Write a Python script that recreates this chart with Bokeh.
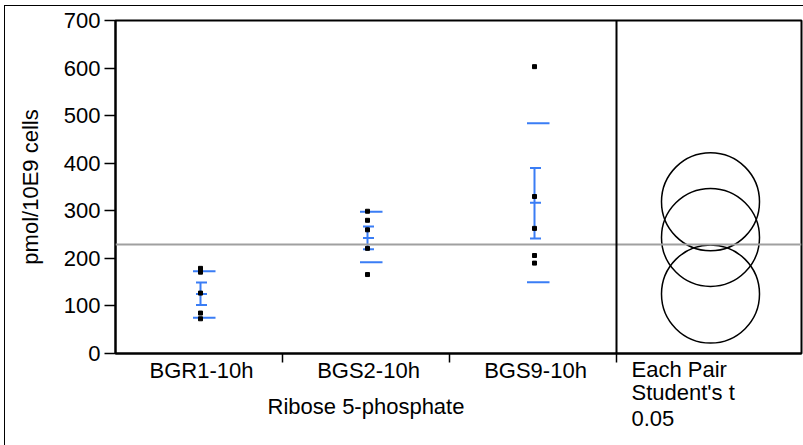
from bokeh.plotting import figure
from bokeh.layouts import column
from bokeh.models import Range1d, FixedTicker, Span
from bokeh.core.properties import value
from bokeh.embed import file_html
from bokeh.resources import INLINE

# ---- data ----
groups = ["BGR1-10h", "BGS2-10h", "BGS9-10h"]
pts_bgr1 = [179, 171, 127, 85, 73]
pts_bgs2 = [299, 280, 260, 221, 166]
pts_bgs9 = [603, 330, 263, 206, 190]
means = [125, 243, 317]
err_lower = [102, 219, 242]
err_upper = [149, 267, 390]
sd_lower = [75, 192, 150]
sd_upper = [173, 298, 484]
grand_mean = 229
circle_centers = [125, 244, 319]
circle_radius = [103, 103, 103]
y_ticks = [0, 100, 200, 300, 400, 500, 600, 700]
x_title = "Ribose 5-phosphate"
y_title = "pmol/10E9 cells"
test_lines = ["Each Pair", "Student's t", "0.05"]

FONT = "Liberation Sans"
FS = "22px"
BLUE = "#3a7df5"
PX = 1.0 / 167.0  # one pixel in x data units (category width 167 px)

xr = Range1d(0, 3 + 185 * PX)

p = figure(width=798, height=369, output_backend="svg", toolbar_location=None,
           x_range=xr, y_range=Range1d(0, 700),
           min_border_left=110, min_border_right=2, min_border_top=14, min_border_bottom=22)
p.xgrid.visible = False
p.ygrid.visible = False
p.outline_line_color = "black"
p.outline_line_width = 2
p.outline_line_alpha = 1.0

# y axis
yax = p.yaxis[0]
yax.ticker = FixedTicker(ticks=y_ticks, minor_ticks=[])
yax.axis_line_color = "black"
yax.axis_line_width = 2
yax.major_tick_in = 0
yax.major_tick_out = 11
yax.major_tick_line_width = 1.5
yax.major_tick_line_color = "black"
yax.minor_tick_line_color = None
yax.major_label_standoff = 4
yax.major_label_text_font = FONT
yax.major_label_text_font_size = FS
yax.major_label_text_color = "black"
yax.axis_label = y_title
yax.axis_label_text_font = FONT
yax.axis_label_text_font_size = FS
yax.axis_label_text_font_style = "normal"
yax.axis_label_text_color = "black"
yax.axis_label_standoff = 18

# x axis: only boundary ticks
xax = p.xaxis[0]
xax.ticker = FixedTicker(ticks=[1, 2, 3], minor_ticks=[])
xax.major_label_overrides = {1: "", 2: "", 3: ""}
xax.major_label_text_font_size = "1px"
xax.major_label_standoff = 0
xax.axis_line_color = "black"
xax.axis_line_width = 2
xax.major_tick_in = 0
xax.major_tick_out = 9
xax.major_tick_line_width = 1.5
xax.major_tick_line_color = "black"
xax.minor_tick_line_color = None

# grand mean line and panel divider
p.add_layout(Span(location=grand_mean, dimension="width", line_color="#a0a0a0", line_width=2))
p.add_layout(Span(location=3, dimension="height", line_color="black", line_width=2))

# transparent lower strip for the texts under the axis (y in pixels, downward)
q = figure(width=798, height=92, output_backend="svg", toolbar_location=None,
           x_range=xr, y_range=Range1d(92, 0), x_axis_type=None, y_axis_type=None,
           min_border_left=110, min_border_right=2, min_border_top=0, min_border_bottom=0)
q.xgrid.visible = False
q.ygrid.visible = False
q.outline_line_color = None
q.background_fill_color = None
q.border_fill_color = None
q.styles = {"margin-top": "-22px"}

all_pts = [pts_bgr1, pts_bgs2, pts_bgs9]
for i, pts in enumerate(all_pts):
    xc = i + 0.5 + 1.5 * PX
    p.segment(x0=[xc - 7.5 * PX] * 2, x1=[xc + 15 * PX] * 2,
              y0=[sd_lower[i], sd_upper[i]], y1=[sd_lower[i], sd_upper[i]],
              line_color=BLUE, line_width=2)
    p.segment(x0=[xc], x1=[xc], y0=[err_lower[i]], y1=[err_upper[i]],
              line_color=BLUE, line_width=2)
    cap_vals = [err_lower[i], means[i], err_upper[i]]
    p.segment(x0=[xc - 4.5 * PX] * 3, x1=[xc + 6.5 * PX] * 3,
              y0=cap_vals, y1=cap_vals, line_color=BLUE, line_width=2)
    p.scatter(x=[xc] * len(pts), y=pts, marker="square", size=4,
              fill_color="black", line_color="black")

# category labels
q.text(x=[i + 0.5 + 2.5 * PX for i in range(len(groups))], y=[16.5] * len(groups), text=groups,
       text_align="center", text_baseline="alphabetic", text_font=value(FONT),
       text_font_size=FS, text_color="black")
# axis title
q.text(x=[1.5], y=[53], text=[x_title], text_align="center", text_baseline="alphabetic",
       text_font=value(FONT), text_font_size=FS, text_color="black")
# comparison test caption
q.text(x=[3 + 15 * PX] * 3, y=[16, 39, 64.5], text=test_lines, text_align="left",
       text_baseline="alphabetic", text_font=value(FONT), text_font_size=FS, text_color="black")

# comparison circles
cx = 3 + 94 * PX
p.circle(x=[cx] * 3, y=circle_centers, radius=circle_radius, radius_dimension="y",
         fill_color=None, line_color="black", line_width=1.5)

lay = column(p, q, spacing=0)
lay.styles = {"border-left": "1px solid black", "border-top": "1px solid black",
              "margin-left": "4px", "margin-top": "5px"}

open("out.html", "w").write(file_html(lay, INLINE))
